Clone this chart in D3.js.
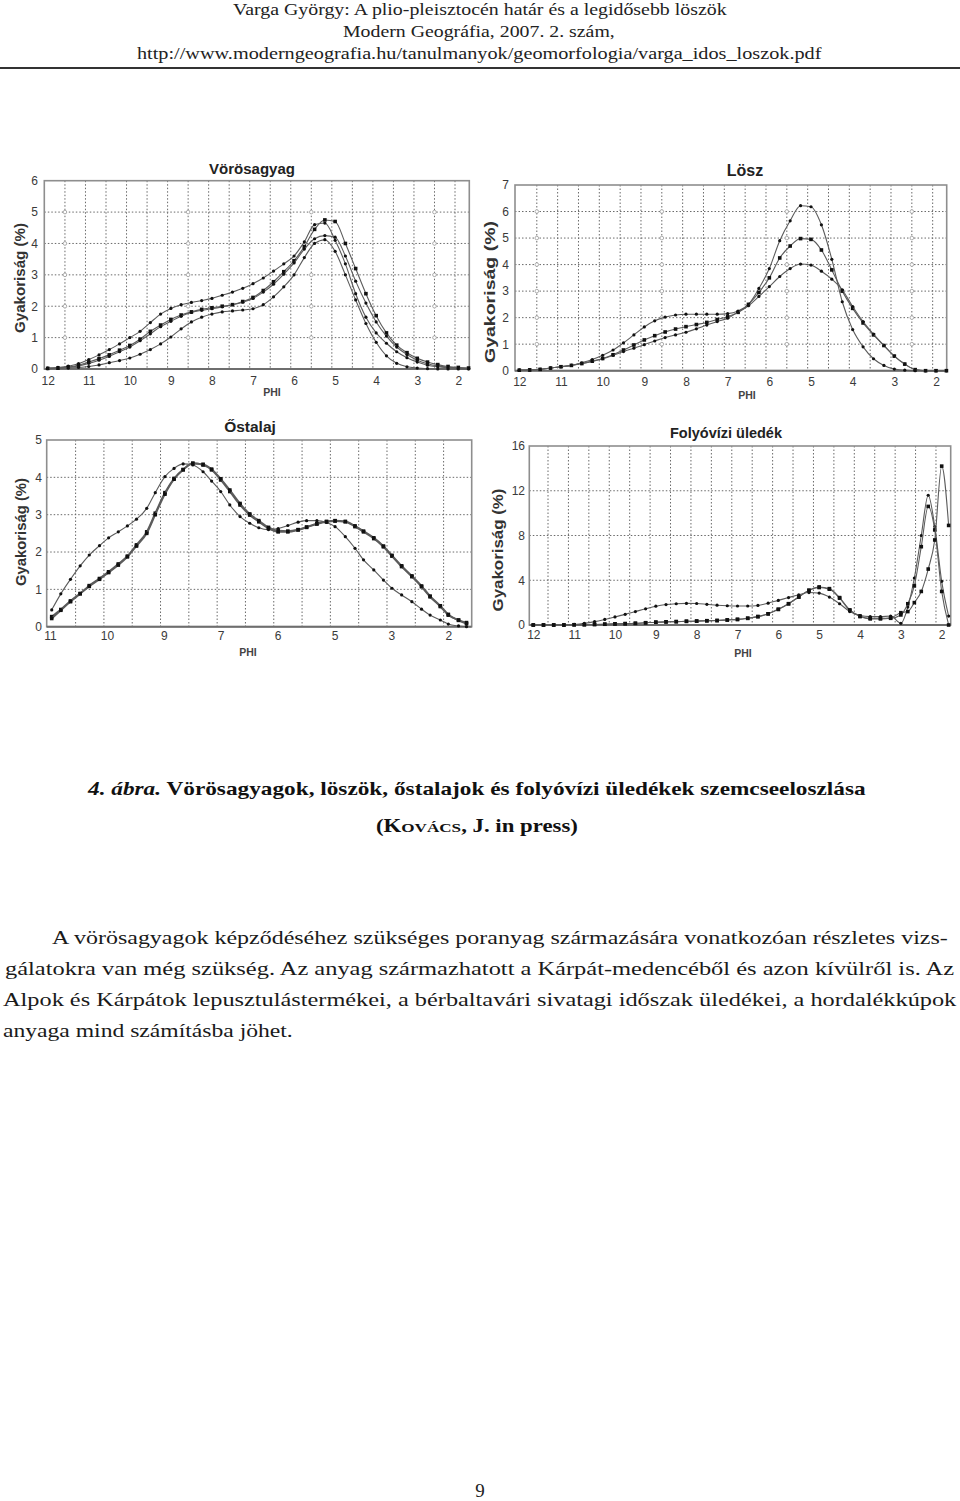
<!DOCTYPE html>
<html><head><meta charset="utf-8">
<script src="https://cdn.jsdelivr.net/npm/d3@7"></script>
<style>body{margin:0;background:#fff}</style>
</head><body><svg id="page" width="960" height="1501"></svg>
<script>
// ---------------- DATA ----------------
const phiSteps = [12,11.75,11.5,11.25,11,10.75,10.5,10.25,10,9.75,9.5,9.25,9,8.75,8.5,8.25,8,7.75,7.5,7.25,7,6.75,6.5,6.25,6,5.75,5.5,5.25,5,4.75,4.5,4.25,4,3.75,3.5,3.25,3,2.75,2.5,2.25,2,1.75];
const phiTicks = [12,11,10,9,8,7,6,5,4,3,2];

// Vörösagyag (4 series)
const voros1 = [0.03,0.05,0.09,0.17,0.30,0.45,0.62,0.80,1.00,1.20,1.48,1.75,1.93,2.05,2.12,2.18,2.25,2.35,2.45,2.57,2.72,2.90,3.12,3.35,3.60,4.05,4.60,4.65,4.10,3.35,2.40,1.65,1.15,0.82,0.55,0.36,0.22,0.12,0.07,0.04,0.02,0.01];
const voros2 = [0.02,0.03,0.06,0.12,0.22,0.33,0.45,0.60,0.75,0.95,1.20,1.40,1.58,1.72,1.82,1.90,1.95,2.00,2.05,2.15,2.28,2.50,2.78,3.10,3.45,3.90,4.45,4.75,4.70,4.00,3.20,2.40,1.70,1.15,0.76,0.52,0.34,0.22,0.14,0.08,0.05,0.03];
const voros3 = [0.02,0.03,0.05,0.10,0.18,0.28,0.40,0.55,0.70,0.90,1.12,1.35,1.52,1.68,1.80,1.87,1.92,1.98,2.05,2.13,2.25,2.45,2.70,3.02,3.38,3.82,4.15,4.25,4.20,3.60,2.80,2.10,1.50,1.05,0.70,0.46,0.28,0.17,0.10,0.06,0.04,0.02];
const voros4 = [0.01,0.02,0.03,0.05,0.08,0.13,0.20,0.27,0.35,0.47,0.62,0.80,1.02,1.28,1.50,1.65,1.75,1.82,1.85,1.88,1.92,2.05,2.30,2.62,3.00,3.55,4.00,4.12,3.75,3.00,2.20,1.45,0.85,0.42,0.18,0.07,0.03,0.01,0.00,0.00,0.00,0.00];

// Lösz (3 series)
const losz1 = [0.02,0.03,0.05,0.10,0.15,0.20,0.30,0.42,0.58,0.78,1.05,1.35,1.65,1.88,2.02,2.10,2.13,2.13,2.13,2.13,2.15,2.25,2.50,3.10,3.85,4.90,5.65,6.22,6.18,5.50,4.20,2.60,1.55,0.90,0.45,0.20,0.06,0.02,0.00,0.00,0.00,0.00];
const losz2 = [0.02,0.03,0.05,0.10,0.15,0.20,0.27,0.36,0.46,0.60,0.78,0.97,1.16,1.32,1.46,1.57,1.66,1.74,1.82,1.93,2.03,2.20,2.50,2.95,3.50,4.25,4.70,4.98,4.95,4.55,3.80,3.00,2.35,1.80,1.35,0.95,0.55,0.25,0.04,0.00,0.00,0.00];
const losz3 = [0.02,0.03,0.05,0.10,0.15,0.20,0.27,0.35,0.45,0.58,0.72,0.85,0.98,1.12,1.25,1.35,1.45,1.58,1.72,1.85,1.98,2.20,2.45,2.80,3.17,3.55,3.85,4.02,3.98,3.75,3.45,3.05,2.42,1.85,1.38,0.95,0.55,0.25,0.04,0.00,0.00,0.00];

// Őstalaj (3 series) — x in tick-slot units, labels evenly spaced
const ostalajTickLabels = ["11","10","9","7","6","5","3","2"];
const ostalajX = [0.03,0.19,0.36,0.53,0.69,0.87,1.03,1.20,1.36,1.52,1.70,1.85,2.02,2.18,2.34,2.51,2.69,2.84,3.00,3.16,3.34,3.51,3.67,3.84,4.01,4.18,4.36,4.51,4.69,4.86,5.01,5.19,5.36,5.51,5.69,5.86,6.01,6.18,6.36,6.53,6.68,6.86,7.00,7.18,7.32];
const ostalaj1 = [0.45,0.88,1.27,1.63,1.92,2.17,2.38,2.54,2.70,2.88,3.17,3.59,4.02,4.24,4.36,4.33,4.15,3.90,3.62,3.26,2.95,2.77,2.65,2.60,2.63,2.71,2.80,2.84,2.84,2.79,2.68,2.41,2.10,1.79,1.52,1.25,1.03,0.85,0.67,0.47,0.31,0.18,0.07,0.02,0.00];
const ostalaj2 = [0.27,0.46,0.69,0.89,1.10,1.29,1.47,1.68,1.89,2.19,2.54,3.04,3.59,3.97,4.21,4.38,4.33,4.20,3.93,3.62,3.26,2.99,2.81,2.63,2.54,2.54,2.59,2.66,2.75,2.81,2.83,2.81,2.68,2.54,2.36,2.14,1.89,1.61,1.34,1.07,0.80,0.54,0.31,0.18,0.11];
const ostalaj3 = [0.22,0.44,0.67,0.88,1.08,1.27,1.45,1.65,1.87,2.16,2.50,3.00,3.55,3.95,4.20,4.37,4.35,4.22,3.96,3.66,3.30,3.02,2.84,2.66,2.57,2.56,2.60,2.67,2.76,2.82,2.84,2.82,2.70,2.56,2.38,2.16,1.91,1.63,1.36,1.09,0.82,0.56,0.33,0.17,0.08];

// Folyóvízi üledék (3 series)
const folyoPhi = [12,11.75,11.5,11.25,11,10.75,10.5,10.25,10,9.75,9.5,9.25,9,8.75,8.5,8.25,8,7.75,7.5,7.25,7,6.75,6.5,6.25,6,5.75,5.5,5.25,5,4.75,4.5,4.25,4,3.75,3.5,3.25,3,2.83,2.67,2.5,2.33,2.17,2,1.83];
const folyo1 = [0,0,0,0,0.05,0.15,0.30,0.50,0.72,0.95,1.20,1.45,1.68,1.83,1.90,1.93,1.92,1.85,1.77,1.72,1.70,1.70,1.75,1.95,2.20,2.45,2.70,2.90,2.85,2.50,1.90,1.20,0.85,0.75,0.75,0.80,0.15,1.60,4.20,8.00,11.60,8.80,3.90,0.80];
const folyo2 = [0,0,0,0,0.02,0.03,0.05,0.07,0.10,0.12,0.15,0.20,0.25,0.28,0.30,0.33,0.35,0.38,0.40,0.45,0.50,0.60,0.75,1.00,1.40,1.90,2.50,3.10,3.35,3.20,2.40,1.30,0.75,0.55,0.55,0.60,0.90,1.90,3.50,7.00,10.60,8.50,3.00,0.00];
const folyo3 = [0,0,0,0,0.02,0.03,0.05,0.07,0.10,0.12,0.15,0.20,0.25,0.28,0.30,0.33,0.35,0.38,0.40,0.45,0.50,0.60,0.75,1.00,1.40,1.90,2.50,3.10,3.40,3.25,2.45,1.35,0.80,0.60,0.60,0.65,1.10,1.20,2.00,3.00,5.00,7.60,14.20,8.90];

const titles = ["Vörösagyag","Lösz","Őstalaj","Folyóvízi üledék"];
const yLabel = "Gyakoriság (%)";
const xLabel = "PHI";

// ---------------- DRAWING ----------------
const svg = d3.select("#page");
svg.append("rect").attr("width",960).attr("height",1501).attr("fill","#fff");
const SANS = "'Liberation Sans', Arial, sans-serif";
const SERIF = "'Liberation Serif', 'Times New Roman', serif";

function fitText(sel, x0, width){
  const w = sel.node().getComputedTextLength();
  const k = width / w;
  sel.attr("x", 0).attr("transform", `translate(${x0},0) scale(${k},1)`);
}

function panel(cfg){
  const g = svg.append("g");
  const x = d3.scaleLinear().domain(cfg.xDomain).range(cfg.xRange);
  const y = d3.scaleLinear().domain([0, cfg.yMax]).range([cfg.y0, cfg.yTop]);
  const L = cfg.frame[0], R = cfg.frame[1], T = y(cfg.yMax), B = y(0);

  g.selectAll(null).data(cfg.yTicks.filter(v => v > 0 && v < cfg.yMax)).enter().append("line")
    .attr("x1", L).attr("x2", R).attr("y1", d => y(d)).attr("y2", d => y(d))
    .attr("stroke", "#6a6a6a").attr("stroke-width", 1).attr("stroke-dasharray", "1.5,2");
  g.selectAll(null).data(cfg.vGrid).enter().append("line")
    .attr("x1", d => x(d)).attr("x2", d => x(d)).attr("y1", T).attr("y2", B)
    .attr("stroke", "#6a6a6a").attr("stroke-width", 1).attr("stroke-dasharray", "1.5,2");

  if (cfg.circleCols){
    const pts = [];
    cfg.circleCols.forEach(c => cfg.yTicks.filter(v => v > 0 && v < cfg.yMax).forEach(v => pts.push([c, v])));
    g.selectAll(null).data(pts).enter().append("circle")
      .attr("cx", d => x(d[0])).attr("cy", d => y(d[1])).attr("r", 1.8)
      .attr("fill", "#fff").attr("stroke", "#9a9a9a").attr("stroke-width", 0.8);
  }

  g.append("rect").attr("x", L).attr("y", T).attr("width", R - L).attr("height", B - T)
    .attr("fill", "none").attr("stroke", "#8e8e8e").attr("stroke-width", 1.6);
  g.append("line").attr("x1", L).attr("x2", R).attr("y1", B).attr("y2", B)
    .attr("stroke", "#6e6e6e").attr("stroke-width", 2);

  const fs = 12;
  const xa = d3.axisBottom(x).tickValues(cfg.xTickVals).tickFormat((d, i) => cfg.xTickLabels[i])
    .tickSize(0).tickPadding(cfg.xLabelBase - B - 0.71 * fs);
  const gx = g.append("g").attr("transform", `translate(0,${B})`).call(xa);
  gx.select(".domain").remove();
  gx.selectAll("text").attr("font-family", SANS).attr("font-size", fs).attr("fill", "#3a3a3a");

  const ya = d3.axisLeft(y).tickValues(cfg.yTicks).tickFormat(d3.format("d"))
    .tickSize(0).tickPadding(L - cfg.yLabelEnd);
  const gy = g.append("g").attr("transform", `translate(${L},0)`).call(ya);
  gy.select(".domain").remove();
  gy.selectAll("text").attr("font-family", SANS).attr("font-size", fs).attr("fill", "#3a3a3a");

  // title
  g.append("text").attr("x", cfg.title[1]).attr("y", cfg.title[2]).attr("text-anchor", "middle")
    .attr("font-family", SANS).attr("font-weight", "bold").attr("font-size", cfg.title[3])
    .attr("fill", "#222").text(cfg.title[0]);
  // y label
  g.append("text").attr("transform", `translate(${cfg.ylab[0]},${cfg.ylab[1]}) rotate(-90)`)
    .attr("text-anchor", "middle").attr("dy", "0.35em")
    .attr("font-family", SANS).attr("font-weight", "bold").attr("font-size", 15)
    .attr("textLength", cfg.ylab[2]).attr("lengthAdjust", "spacingAndGlyphs")
    .attr("fill", "#333").text(yLabel);
  // x label
  g.append("text").attr("x", cfg.xlab[0]).attr("y", cfg.xlab[1]).attr("text-anchor", "middle")
    .attr("font-family", SANS).attr("font-size", 10.5).attr("font-weight", "bold")
    .attr("fill", "#444").text(xLabel);

  const line = d3.line().x(d => x(d[0])).y(d => y(d[1])).curve(d3.curveMonotoneX);
  cfg.series.forEach((s, si) => {
    const pts = s.ys.map((v, i) => [s.xs[i], v]);
    g.append("path").datum(pts).attr("d", line).attr("fill", "none")
      .attr("stroke", "#5c5c5c").attr("stroke-width", s.w || 1.1);
    if (s.mark === "square"){
      g.selectAll(null).data(pts).enter().append("rect")
        .attr("x", d => x(d[0]) - 1.8).attr("y", d => y(d[1]) - 1.8)
        .attr("width", 3.6).attr("height", 3.6).attr("fill", "#111");
    } else {
      g.selectAll(null).data(pts).enter().append("circle")
        .attr("cx", d => x(d[0])).attr("cy", d => y(d[1])).attr("r", 1.6).attr("fill", "#111");
    }
  });
}

// Panel 1: Vörösagyag
panel({
  xDomain: [12, 2], xRange: [47.7, 458.3], frame: [44.3, 469.3],
  yMax: 6, y0: 369, yTop: 180.7, yTicks: [0,1,2,3,4,5,6],
  vGrid: d3.range(11.58, 1.9, -0.5), circleCols: [11.58, 8.58, 5.58, 2.58],
  xTickVals: phiTicks, xTickLabels: phiTicks.map(String),
  xLabelBase: 385, yLabelEnd: 38,
  title: [titles[0], 252, 173.5, 15], ylab: [19.5, 278, 110], xlab: [272, 396],
  series: [
    {xs: phiSteps, ys: voros1, mark: "circle"},
    {xs: phiSteps, ys: voros2, mark: "square"},
    {xs: phiSteps, ys: voros3, mark: "circle"},
    {xs: phiSteps, ys: voros4, mark: "circle"}
  ]
});

// Panel 2: Lösz
panel({
  xDomain: [12, 2], xRange: [519.3, 936], frame: [515, 946.7],
  yMax: 7, y0: 370.7, yTop: 185, yTicks: [0,1,2,3,4,5,6,7],
  vGrid: d3.range(11.58, 1.9, -0.5), circleCols: [11.58, 8.58, 5.58, 2.58],
  xTickVals: phiTicks, xTickLabels: phiTicks.map(String),
  xLabelBase: 386, yLabelEnd: 509,
  title: [titles[1], 745, 176, 16], ylab: [490, 292, 142], xlab: [747, 399],
  series: [
    {xs: phiSteps, ys: losz1, mark: "circle"},
    {xs: phiSteps, ys: losz2, mark: "square"},
    {xs: phiSteps, ys: losz3, mark: "circle"}
  ]
});

// Panel 3: Őstalaj
const ostTickPos = ostalajTickLabels.map((d, i) => i);
panel({
  xDomain: [0, 7], xRange: [50, 448.3], frame: [46.7, 471.7],
  yMax: 5, y0: 626.7, yTop: 440, yTicks: [0,1,2,3,4,5],
  vGrid: d3.range(0.45, 7.2, 0.4975),
  xTickVals: ostTickPos, xTickLabels: ostalajTickLabels,
  xLabelBase: 640, yLabelEnd: 42,
  title: [titles[2], 250, 431.5, 15.5], ylab: [20.5, 532, 108], xlab: [248, 656],
  series: [
    {xs: ostalajX, ys: ostalaj1, mark: "circle"},
    {xs: ostalajX, ys: ostalaj2, mark: "square", w: 1.8},
    {xs: ostalajX, ys: ostalaj3, mark: "square", w: 1.8}
  ]
});

// Panel 4: Folyóvízi üledék
panel({
  xDomain: [12, 2], xRange: [533.3, 941.7], frame: [529.3, 950.7],
  yMax: 16, y0: 625, yTop: 446, yTicks: [0,4,8,12,16],
  vGrid: d3.range(11.64, 1.9, -0.5),
  xTickVals: phiTicks, xTickLabels: phiTicks.map(String),
  xLabelBase: 639, yLabelEnd: 525,
  title: [titles[3], 726, 438, 14.5], ylab: [498, 550, 123], xlab: [743, 657],
  series: [
    {xs: folyoPhi, ys: folyo1, mark: "circle"},
    {xs: folyoPhi, ys: folyo2, mark: "square"},
    {xs: folyoPhi, ys: folyo3, mark: "square"}
  ]
});

// ---------------- PAGE TEXT ----------------
const headerLines = [
  ["Varga György: A plio-pleisztocén határ és a legidősebb löszök", 233, 494, 15],
  ["Modern Geográfia, 2007. 2. szám,", 343, 272, 37],
  ["http://www.moderngeografia.hu/tanulmanyok/geomorfologia/varga_idos_loszok.pdf", 137, 685, 59]
];
headerLines.forEach(h => {
  const t = svg.append("text").attr("y", h[3]).attr("font-family", SERIF).attr("font-size", 16)
    .attr("fill", "#222").text(h[0]);
  fitText(t, h[1], h[2]);
});
svg.append("line").attr("x1", 0).attr("x2", 960).attr("y1", 68).attr("y2", 68)
  .attr("stroke", "#333").attr("stroke-width", 2);

// Caption
const cap1 = svg.append("text").attr("y", 795).attr("font-family", SERIF).attr("font-size", 18)
  .attr("font-weight", "bold").attr("fill", "#111");
cap1.append("tspan").attr("font-style", "italic").text("4. ábra.");
cap1.append("tspan").text(" Vörösagyagok, löszök, őstalajok és folyóvízi üledékek szemcseeloszlása");
fitText(cap1, 88, 778);
const cap2 = svg.append("text").attr("y", 832).attr("font-family", SERIF).attr("font-size", 18)
  .attr("font-weight", "bold").attr("fill", "#111");
cap2.append("tspan").text("(K");
cap2.append("tspan").attr("font-size", 13.5).text("OVÁCS");
cap2.append("tspan").text(", J. in press)");
fitText(cap2, 376, 202);

// Paragraph
const paraLines = [
  ["A vörösagyagok képződéséhez szükséges poranyag származására vonatkozóan részletes vizs-", 52, 896, 944],
  ["gálatokra van még szükség. Az anyag származhatott a Kárpát-medencéből és azon kívülről is. Az", 5, 950, 975],
  ["Alpok és Kárpátok lepusztulástermékei, a bérbaltavári sivatagi időszak üledékei, a hordalékkúpok", 3, 954, 1006],
  ["anyaga mind számításba jöhet.", 3, 290, 1037]
];
paraLines.forEach(p => {
  const t = svg.append("text").attr("y", p[3]).attr("font-family", SERIF).attr("font-size", 19)
    .attr("fill", "#1a1a1a").text(p[0]);
  fitText(t, p[1], p[2]);
});

svg.append("text").attr("x", 480).attr("y", 1497).attr("text-anchor", "middle")
  .attr("font-family", SERIF).attr("font-size", 19).attr("fill", "#222").text("9");
</script>
</body></html>
